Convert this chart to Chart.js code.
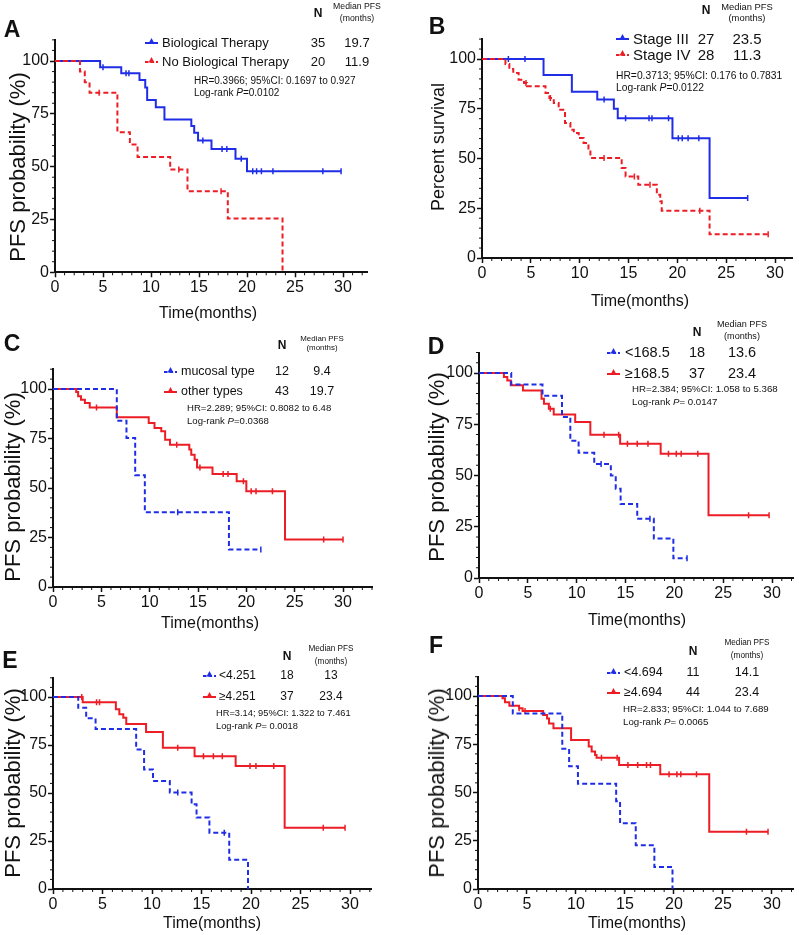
<!DOCTYPE html>
<html>
<head>
<meta charset="utf-8">
<script src="https://cdn.jsdelivr.net/npm/chart.js@4.4.1/dist/chart.umd.min.js"></script>
<style>
  body { margin: 0; background: #fff; }
  #wrap { position: relative; width: 799px; height: 935px; overflow: hidden;
          font-family: "Liberation Sans", Arial, sans-serif; color: #111; }
  #wrap canvas { position: absolute; left: 0; top: 0; }
  .t { position: absolute; white-space: nowrap; line-height: 1; }
</style>
</head>
<body>
<div id="wrap"></div>
<script>
// ---- data (time in months, PFS in %) ----
// A: biological therapy
const aBioT = [0, 4.7, 6.9, 8.8, 9.4, 9.6, 10.5, 11.4, 14.2, 14.5, 14.9, 16.3, 18.8, 20.0, 29.8];
const aBioS = [100, 97.1, 94.2, 91.0, 87.5, 81.5, 78.1, 72.3, 69.2, 66.1, 62.4, 58.3, 53.7, 47.8, 47.8];
const aBioCens = [5.0, 7.4, 7.7, 15.4, 17.4, 17.9, 19.4, 20.6, 21.0, 21.5, 22.7, 27.9, 29.8];
const aNoT = [0, 2.6, 3.1, 3.6, 6.5, 7.8, 8.6, 12.0, 13.8, 18.0, 23.7];
const aNoS = [100, 95, 90, 85, 66.3, 60.5, 54.6, 48.6, 38.4, 25.5, 0];
const aNoCens = [4.6, 12.9, 17.3];
// B: stage
const bIIIT = [0, 6.3, 9.2, 11.8, 13.5, 13.9, 19.5, 23.3, 27.2];
const bIIIS = [100, 92.0, 83.6, 79.6, 75.0, 70.2, 60.2, 30.1, 30.1];
const bIIICens = [2.7, 4.4, 12.5, 14.7, 17.1, 17.4, 19.1, 20.1, 20.5, 21.1, 22.2, 27.2];
const bIVT = [0, 2.4, 2.8, 3.2, 3.75, 4.3, 4.6, 6.5, 6.9, 7.35, 7.85, 8.5, 9.05, 9.4, 9.9, 10.4, 10.9, 11.1, 14.3, 14.7, 16.0, 17.9, 18.25, 18.4, 23.3, 29.3];
const bIVS = [100, 97.5, 95.0, 93.0, 89.6, 88.0, 86.3, 82.9, 80.4, 77.9, 74.5, 67.8, 64.5, 62.8, 60.3, 57.8, 54.4, 50.3, 45.2, 41.0, 36.8, 31.8, 28.5, 23.8, 11.9, 11.9];
const bIVCens = [4.5, 7.0, 12.5, 15.6, 17.2, 22.3, 29.3];
// C: histological type
const cMucT = [0, 6.6, 7.6, 8.5, 9.5, 18.2, 21.5];
const cMucS = [100, 84.0, 75.3, 56.5, 37.8, 18.9, 18.9];
const cMucCens = [12.9, 21.5];
const cOthT = [0, 2.4, 2.6, 2.9, 3.3, 3.8, 6.6, 9.9, 10.5, 11.2, 11.6, 12.1, 14.1, 14.3, 14.65, 14.9, 16.5, 19.0, 20.0, 24.0, 30.0];
const cOthS = [100, 98.5, 96.3, 94.6, 92.9, 90.7, 85.7, 82.8, 80.3, 78.6, 74.4, 71.9, 69.4, 66.8, 64.3, 60.4, 57.1, 53.4, 48.3, 24.0, 24.0];
const cOthCens = [4.5, 12.8, 15.2, 17.6, 18.1, 19.7, 20.5, 21.0, 22.7, 28.0, 30.0];
// D: cut-off 168.5
const dLoT = [0, 3.3, 6.5, 8.5, 9.35, 10.2, 11.8, 13.5, 14.0, 14.5, 16.2, 17.9, 19.9, 21.3];
const dLoS = [100, 94.4, 88.9, 78.5, 67.0, 61.1, 55.6, 50.0, 43.5, 36.1, 28.9, 19.3, 9.6, 9.6];
const dLoCens = [12.5, 17.5, 21.3];
const dHiT = [0, 2.55, 2.9, 3.25, 4.5, 6.4, 6.65, 7.15, 7.65, 9.85, 11.4, 14.45, 18.6, 23.5, 29.7];
const dHiS = [100, 98.0, 96.4, 94.0, 91.5, 87.5, 85.0, 82.6, 79.7, 76.1, 69.9, 65.5, 60.6, 30.6, 30.6];
const dHiCens = [7.3, 12.8, 14.3, 15.2, 16.2, 17.3, 19.4, 20.2, 20.7, 22.4, 27.6, 29.7];
// E: cut-off 4.251
const eLoT = [0, 2.55, 3.35, 4.3, 8.4, 9.2, 10.1, 11.8, 14.0, 14.5, 15.8, 17.8, 19.7];
const eLoS = [100, 94.4, 88.9, 83.3, 72.7, 62.3, 56.3, 50.2, 44.1, 37.2, 29.3, 15.2, 0];
const eLoCens = [12.6, 17.3];
const eHiT = [0, 3.0, 6.35, 6.7, 7.1, 7.4, 9.4, 11.1, 14.3, 18.45, 23.4, 29.5];
const eHiS = [100, 97.3, 93.6, 91.0, 89.2, 85.9, 81.8, 73.6, 69.2, 64.1, 31.9, 31.9];
const eHiCens = [2.9, 4.4, 4.7, 12.6, 15.2, 16.2, 17.1, 19.9, 20.5, 22.3, 27.3, 29.5];
// F: cut-off 4.694
const fLoT = [0, 3.55, 8.6, 9.3, 10.2, 14.1, 14.5, 16.1, 18.0, 19.85];
const fLoS = [100, 90.9, 72.7, 63.6, 54.5, 45.5, 34.1, 22.7, 11.4, 0];
const fLoCens = [];
const fHiT = [0, 2.5, 2.75, 3.2, 4.2, 4.55, 6.65, 7.05, 7.25, 7.7, 9.5, 11.3, 11.6, 11.95, 12.1, 14.4, 18.6, 23.6, 29.6];
const fHiS = [100, 98.8, 96.7, 95.0, 93.6, 92.2, 90.2, 88.4, 85.8, 83.3, 77.2, 73.8, 71.2, 69.4, 68.0, 64.2, 59.4, 29.7, 29.7];
const fHiCens = [4.2, 4.8, 12.6, 14.2, 15.3, 16.3, 17.2, 17.6, 19.5, 20.3, 20.7, 22.3, 27.4, 29.6];

const xTicks = [0, 5, 10, 15, 20, 25, 30];
const yTicks = [0, 25, 50, 75, 100];

const BLUE = '#1f2ee6';
const RED = '#ec1d25';

// ---- panels ----
const panels = [
  { id: 'A', geo: { x0: 55, px: 9.6, xmax: 32.5, y0: 272.3, py: 2.113 },
    series: [
      { name: 'No Biological Therapy', n: 20, med: '11.9', t: aNoT, s: aNoS, c: aNoCens, color: RED, dash: true },
      { name: 'Biological Therapy', n: 35, med: '19.7', t: aBioT, s: aBioS, c: aBioCens, color: BLUE, dash: false } ],
    legendOrder: [1, 0],
    hr: 'HR=0.3966; 95%CI: 0.1697 to 0.927', p: 'P=0.0102',
    ytitle: 'PFS probability (%)', yts: 22,
    pos: { letter: [12, 29], nx: 318, ny: 13, mx: 357, my: [6, 18], hs: 8.7, rows: [42, 61], sx: 144, lx: 162, fs: 13, hx: 194, hy: [81, 93], hrs: 10, xt: [208, 313], yt: [18, 167] } },
  { id: 'B', geo: { x0: 482, px: 9.767, xmax: 31.8, y0: 258, py: 1.99 },
    series: [
      { name: 'Stage IV', n: 28, med: '11.3', t: bIVT, s: bIVS, c: bIVCens, color: RED, dash: true },
      { name: 'Stage III', n: 27, med: '23.5', t: bIIIT, s: bIIIS, c: bIIICens, color: BLUE, dash: false } ],
    legendOrder: [1, 0],
    hr: 'HR=0.3713; 95%CI: 0.176 to 0.7831', p: 'P=0.0122',
    ytitle: 'Percent survival', yts: 18,
    pos: { letter: [437, 26], nx: 706, ny: 10, mx: 747, my: [7, 18], hs: 9.4, rows: [38, 54], sx: 615, lx: 633, fs: 15, hx: 616, hy: [76, 88], hrs: 10.3, xt: [640, 301], yt: [438, 147] } },
  { id: 'C', geo: { x0: 53, px: 9.667, xmax: 33.0, y0: 587, py: 1.98 },
    series: [
      { name: 'mucosal type', n: 12, med: '9.4', t: cMucT, s: cMucS, c: cMucCens, color: BLUE, dash: true },
      { name: 'other types', n: 43, med: '19.7', t: cOthT, s: cOthS, c: cOthCens, color: RED, dash: false } ],
    legendOrder: [0, 1],
    hr: 'HR=2.289; 95%CI: 0.8082 to 6.48', p: 'P=0.0368',
    ytitle: 'PFS probability (%)', yts: 22,
    pos: { letter: [12, 343], nx: 282, ny: 345, mx: 322, my: [339, 348], hs: 7.9, rows: [371, 391], sx: 163, lx: 181, fs: 12.5, hx: 187, hy: [408, 421], hrs: 9.6, xt: [210, 623], yt: [13, 487] } },
  { id: 'D', geo: { x0: 479, px: 9.8, xmax: 32.2, y0: 578, py: 2.05 },
    series: [
      { name: '<168.5', n: 18, med: '13.6', t: dLoT, s: dLoS, c: dLoCens, color: BLUE, dash: true },
      { name: '\u2265168.5', n: 37, med: '23.4', t: dHiT, s: dHiS, c: dHiCens, color: RED, dash: false } ],
    legendOrder: [0, 1],
    hr: 'HR=2.384; 95%CI: 1.058 to 5.368', p: 'P= 0.0147',
    ytitle: 'PFS probability (%)', yts: 22,
    pos: { letter: [436, 346], nx: 697, ny: 332, mx: 742, my: [325, 337], hs: 9.1, rows: [352, 373], sx: 606, lx: 625, fs: 14.5, hx: 632, hy: [389, 402], hrs: 9.7, xt: [637, 620], yt: [437, 467] } },
  { id: 'E', geo: { x0: 53, px: 9.9, xmax: 32.2, y0: 889, py: 1.92 },
    series: [
      { name: '<4.251', n: 18, med: '13', t: eLoT, s: eLoS, c: eLoCens, color: BLUE, dash: true },
      { name: '\u22654.251', n: 37, med: '23.4', t: eHiT, s: eHiS, c: eHiCens, color: RED, dash: false } ],
    legendOrder: [0, 1],
    hr: 'HR=3.14; 95%CI: 1.322 to 7.461', p: 'P= 0.0018',
    ytitle: 'PFS probability (%)', yts: 22,
    pos: { letter: [10, 660], nx: 287, ny: 656, mx: 331, my: [649, 662], hs: 8.2, rows: [675, 696], sx: 202, lx: 219, fs: 12, hx: 216, hy: [714, 727], hrs: 9.3, xt: [212, 923], yt: [13, 783] } },
  { id: 'F', geo: { x0: 478, px: 9.9, xmax: 32.2, y0: 889, py: 1.93 },
    series: [
      { name: '<4.694', n: 11, med: '14.1', t: fLoT, s: fLoS, c: fLoCens, color: BLUE, dash: true },
      { name: '\u22654.694', n: 44, med: '23.4', t: fHiT, s: fHiS, c: fHiCens, color: RED, dash: false } ],
    legendOrder: [0, 1],
    hr: 'HR=2.833; 95%CI: 1.044 to 7.689', p: 'P= 0.0065',
    ytitle: 'PFS probability (%)', yts: 22,
    pos: { letter: [436, 645], nx: 693, ny: 651, mx: 747, my: [643, 656], hs: 8.2, rows: [672, 692], sx: 606, lx: 624, fs: 12.5, hx: 623, hy: [709, 722], hrs: 9.7, xt: [637, 923], yt: [437, 783] } }
];

const W = 799, H = 935, YW = 40, XH = 30;
const wrap = document.getElementById('wrap');

function stepAt(T, S, t) {
  let v = S[0];
  for (let i = 0; i < T.length; i++) if (T[i] <= t) v = S[i];
  return v;
}

// minor ticks like the GraphPad axes
const minorTicks = {
  id: 'minorTicks',
  afterDraw(chart) {
    const { ctx, scales: { x, y } } = chart;
    ctx.save();
    ctx.strokeStyle = '#111';
    ctx.lineWidth = 1;
    for (let v = 1; v <= x.max; v++) {
      if (v % 5 === 0) continue;
      const px = x.getPixelForValue(v);
      ctx.beginPath(); ctx.moveTo(px, y.bottom); ctx.lineTo(px, y.bottom + 3); ctx.stroke();
    }
    for (let v = 5; v <= y.max; v += 5) {
      if (v % 25 === 0) continue;
      const py = y.getPixelForValue(v);
      ctx.beginPath(); ctx.moveTo(x.left, py); ctx.lineTo(x.left - 3, py); ctx.stroke();
    }
    ctx.restore();
  }
};

function addText(x, y, html, size, opts = {}) {
  const d = document.createElement('div');
  d.className = 't';
  d.innerHTML = html;
  d.style.left = x + 'px';
  d.style.top = y + 'px';
  d.style.fontSize = size + 'px';
  if (opts.bold) d.style.fontWeight = 'bold';
  const ax = opts.align === 'left' ? '0' : '-50%';
  d.style.transform = `translate(${ax},-50%)` + (opts.rot ? ' rotate(-90deg)' : '');
  wrap.appendChild(d);
}

// legend symbol: short line with the little marker in the middle
function sample(x, y, color, dash) {
  const ns = 'http://www.w3.org/2000/svg';
  const svg = document.createElementNS(ns, 'svg');
  svg.setAttribute('width', 15); svg.setAttribute('height', 10);
  svg.style.position = 'absolute';
  svg.style.left = x + 'px'; svg.style.top = (y - 6) + 'px';
  const ln = document.createElementNS(ns, 'line');
  ln.setAttribute('x1', 1); ln.setAttribute('x2', 14); ln.setAttribute('y1', 7); ln.setAttribute('y2', 7);
  ln.setAttribute('stroke', color); ln.setAttribute('stroke-width', 2);
  if (dash) ln.setAttribute('stroke-dasharray', '3.5,2');
  const tri = document.createElementNS(ns, 'polygon');
  tri.setAttribute('points', '4.5,7.5 7.5,2 10.5,7.5');
  tri.setAttribute('fill', color);
  svg.appendChild(ln); svg.appendChild(tri);
  wrap.appendChild(svg);
}

panels.forEach(p => {
  const g = p.geo;
  const left = g.x0, right = g.x0 + g.px * g.xmax;
  const bottom = g.y0, top = g.y0 - g.py * 110;

  const datasets = [];
  p.series.forEach(s => {
    datasets.push({
      data: s.t.map((t, i) => ({ x: t, y: s.s[i] })),
      borderColor: s.color, borderWidth: 2, borderDash: s.dash ? [5, 3] : [],
      stepped: true, pointRadius: 0, fill: false
    });
    datasets.push({
      data: s.c.map(t => ({ x: t, y: stepAt(s.t, s.s, t) })),
      showLine: false, pointStyle: 'line', rotation: 90,
      pointRadius: 3, pointBorderWidth: 1.5, pointBorderColor: s.color, borderColor: s.color
    });
  });

  const cv = document.createElement('canvas');
  cv.width = W; cv.height = H;
  wrap.appendChild(cv);

  const axisCommon = {
    type: 'linear',
    border: { display: true, color: '#111', width: 2 },
    grid: { drawOnChartArea: false, drawTicks: true, tickLength: 5, tickWidth: 1.5, tickColor: '#111' },
  };

  new Chart(cv, {
    type: 'line',
    data: { datasets },
    options: {
      responsive: false, animation: false, devicePixelRatio: 1, events: [],
      layout: { padding: { left: left - YW, right: W - right, top: top, bottom: H - bottom - XH } },
      plugins: { legend: { display: false }, tooltip: { enabled: false } },
      scales: {
        x: { ...axisCommon, min: 0, max: g.xmax,
             afterFit: sc => { sc.height = XH; },
             afterBuildTicks: sc => { sc.ticks = xTicks.map(v => ({ value: v })); },
             ticks: { color: '#111', padding: 1, font: { family: '"Liberation Sans", Arial', size: 16 } } },
        y: { ...axisCommon, min: 0, max: 110,
             afterFit: sc => { sc.width = YW; },
             afterBuildTicks: sc => { sc.ticks = yTicks.map(v => ({ value: v })); },
             ticks: { color: '#111', padding: 1, font: { family: '"Liberation Sans", Arial', size: 16 } } }
      }
    },
    plugins: [minorTicks]
  });

  // annotations
  const q = p.pos;
  addText(q.letter[0], q.letter[1], p.id, 23, { bold: true });
  addText(q.nx, q.ny, 'N', 12, { bold: true });
  addText(q.mx, q.my[0], 'Median PFS', q.hs);
  addText(q.mx, q.my[1], '(months)', q.hs);
  p.legendOrder.forEach((si, r) => {
    const s = p.series[si];
    const y = q.rows[r];
    sample(q.sx, y, s.color, s.dash);
    addText(q.lx, y, s.name.replace('<', '&lt;'), q.fs, { align: 'left' });
    addText(q.nx, y, String(s.n), q.fs);
    addText(q.mx, y, s.med, q.fs);
  });
  addText(q.hx, q.hy[0], p.hr, q.hrs, { align: 'left' });
  addText(q.hx, q.hy[1], 'Log-rank <i>P</i>' + p.p.slice(1), q.hrs, { align: 'left' });
  addText(q.xt[0], q.xt[1], 'Time(months)', 16);
  addText(q.yt[0], q.yt[1], p.ytitle, p.yts, { rot: true });
});
</script>
</body>
</html>
